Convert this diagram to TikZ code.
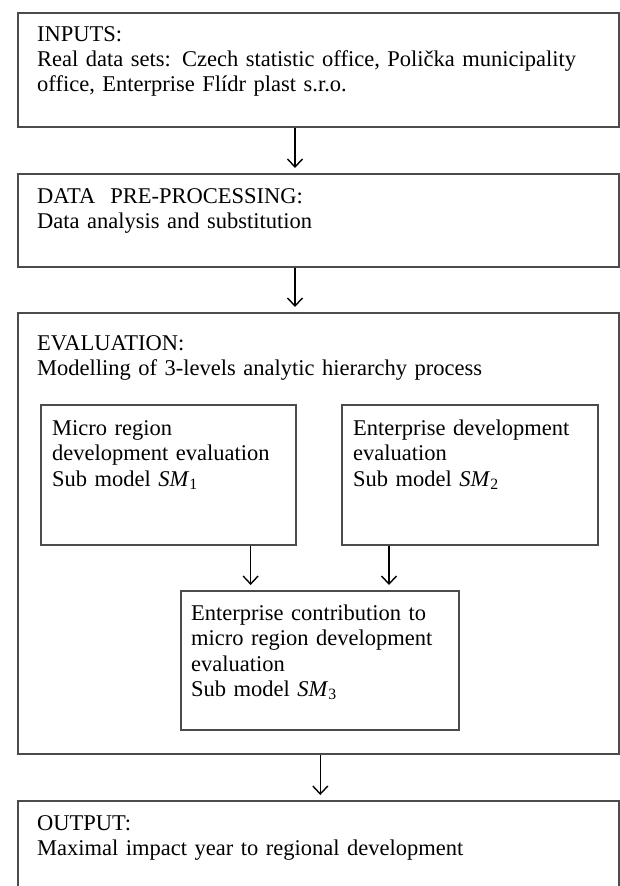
\documentclass[tikz,border=0pt]{standalone}
\usepackage{fontspec}
\setmainfont{Liberation Serif}
\usetikzlibrary{arrows.meta,positioning}

\begin{document}
\begin{tikzpicture}[x=1pt, y=-1pt,
    frame/.style={draw=black!70, line width=1.6pt, anchor=north west, inner sep=0pt},
    txt/.style={anchor=base west, inner sep=0pt, align=left, text width=560pt,
                font=\fontsize{22.5}{25.5}\selectfont},
    arr/.style={-{Straight Barb[length=8pt,width=15pt]}, line width=1.4pt, shorten >=5pt}]
    \useasboundingbox (0,0) rectangle (619,886);

    % Main flow boxes
    \node[frame, minimum width=601pt, minimum height=114pt] (inputs)  at (17,12)  {};
    \node[frame, minimum width=601pt, minimum height=93pt]  (preproc) at (17,173) {};
    \node[frame, minimum width=601pt, minimum height=441pt] (eval)    at (17,312) {};
    \node[frame, minimum width=601pt, minimum height=120pt] (output)  at (17,800) {};

    % Sub models inside the evaluation box
    \node[frame, minimum width=255pt, minimum height=140pt] (sm1) at (40,404)  {};
    \node[frame, minimum width=256pt, minimum height=140pt] (sm2) at (341,404) {};
    \node[frame, minimum width=278pt, minimum height=139pt] (sm3) at (180,590) {};

    % Texts
    \node[txt] (inputs-txt) at ([shift={(20,29)}]inputs.north west)
        {INPUTS:\\Real data sets: Czech statistic office, Polička municipality\\office, Enterprise Flídr plast s.r.o.};
    \node[txt] (preproc-txt) at ([shift={(20,30)}]preproc.north west)
        {DATA\ \ PRE-PROCESSING:\\Data analysis and substitution};
    \node[txt] (eval-txt) at ([shift={(20,38)}]eval.north west)
        {EVALUATION:\\Modelling of 3-levels analytic hierarchy process};
    \node[txt] (sm1-txt) at ([shift={(12,31)}]sm1.north west)
        {Micro region\\development evaluation\\Sub model \textit{SM}\textsubscript{1}};
    \node[txt] (sm2-txt) at ([shift={(12,31)}]sm2.north west)
        {Enterprise development\\evaluation\\Sub model \textit{SM}\textsubscript{2}};
    \node[txt] (sm3-txt) at ([shift={(11,30)}]sm3.north west)
        {Enterprise contribution to\\micro region development\\evaluation\\Sub model \textit{SM}\textsubscript{3}};
    \node[txt] (output-txt) at ([shift={(20,30)}]output.north west)
        {OUTPUT:\\Maximal impact year to regional development};

    % Arrows
    \draw[arr] ([xshift=278pt]inputs.south west) -- ([xshift=278pt]preproc.north west);
    \draw[arr] ([xshift=278pt]preproc.south west) -- ([xshift=278pt]eval.north west);
    \draw[arr] ([xshift=-46pt]sm1.south east) -- ([xshift=-46pt]sm1.south east |- sm3.north);
    \draw[arr] ([xshift=48pt]sm2.south west) -- ([xshift=48pt]sm2.south west |- sm3.north);
    \draw[arr] ([xshift=2pt]eval.south) -- ([xshift=2pt]output.north);
\end{tikzpicture}
\end{document}
